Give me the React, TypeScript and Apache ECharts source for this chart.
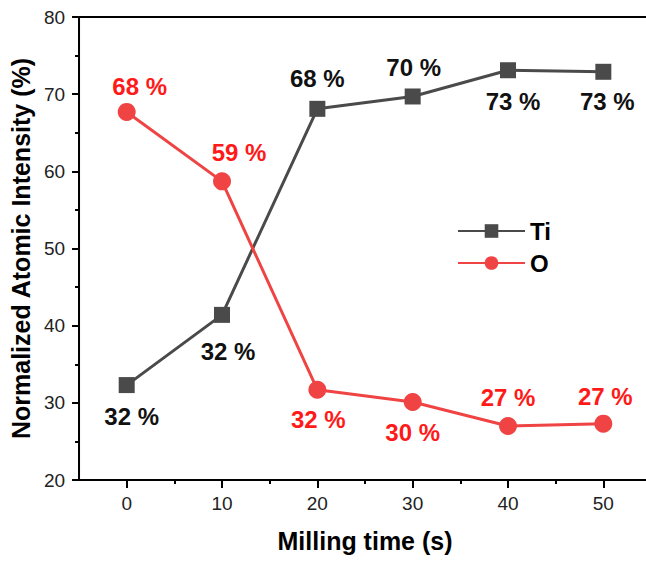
import React, { useEffect, useRef } from "react";
import * as echarts from "echarts";

// Milling time (s) and normalized atomic intensity (%) for each element
const millingTime = [0, 10, 20, 30, 40, 50];
const tiIntensity = [32.3, 41.4, 68.1, 69.7, 73.1, 72.9];
const oIntensity = [67.7, 58.7, 31.7, 30.1, 27.0, 27.3];
const tiLabels = ["32 %", "32 %", "68 %", "70 %", "73 %", "73 %"];
const oLabels = ["68 %", "59 %", "32 %", "30 %", "27 %", "27 %"];
const xMajorTicks = [0, 10, 20, 30, 40, 50];
const xMinorTicks = [5, 15, 25, 35, 45];

// Label offsets (px) from each marker centre
const tiLabelOffsets = [[5, 31], [6, 37], [0, -30], [1, -29], [5, 31], [4, 30]];
const oLabelOffsets = [[13, -25], [17, -29], [1, 30], [0, 30], [0, -28], [2, -27]];

const FONT = "'Liberation Sans', Arial, Helvetica, sans-serif";
const TI_COLOR = "#4a4a4a";
const O_COLOR = "#f04444";

function buildSeriesData(values: number[], labels: string[], offsets: number[][], color: string) {
  return values.map((v, i) => ({
    value: [millingTime[i], v],
    label: {
      show: true,
      position: "inside",
      offset: offsets[i],
      formatter: labels[i],
      color,
      fontSize: 24,
      fontWeight: "bold",
      fontFamily: FONT,
    },
  }));
}

export default function App() {
  const ref = useRef<HTMLDivElement>(null);

  useEffect(() => {
    if (!ref.current) return;
    const chart = echarts.init(ref.current, undefined, { renderer: "svg" });
    chart.setOption({
      animation: false,
      backgroundColor: "#ffffff",
      textStyle: { fontFamily: FONT },
      grid: {
        left: 77,
        top: 17,
        width: 574,
        height: 463,
        show: true,
        borderColor: "#000",
        borderWidth: 2,
        backgroundColor: "transparent",
      },
      legend: {
        left: 452,
        top: 214,
        orient: "vertical",
        itemWidth: 67,
        itemHeight: 17,
        itemGap: 8,
        textStyle: { fontSize: 24, fontWeight: "bold", color: "#000", fontFamily: FONT },
        data: ["Ti", "O"],
      },
      xAxis: [
        {
          type: "value",
          min: -5,
          max: 55,
          position: "bottom",
          name: "Milling time (s)",
          nameLocation: "middle",
          nameGap: 48,
          nameTextStyle: { fontSize: 25, fontWeight: "bold", color: "#000", fontFamily: FONT },
          axisLine: { show: true, onZero: false, lineStyle: { color: "#000", width: 2 } },
          axisTick: { show: true, inside: false, length: 8, lineStyle: { color: "#000", width: 2 }, customValues: xMajorTicks },
          axisLabel: { show: true, fontSize: 19, color: "#222", margin: 14, customValues: xMajorTicks },
          splitLine: { show: false },
        },
        {
          type: "value",
          min: -5,
          max: 55,
          position: "bottom",
          axisLine: { show: false, onZero: false },
          axisTick: { show: true, inside: false, length: 4, lineStyle: { color: "#000", width: 2 }, customValues: xMinorTicks },
          axisLabel: { show: false },
          splitLine: { show: false },
        },
      ],
      yAxis: {
        type: "value",
        min: 20,
        max: 80,
        interval: 10,
        position: "left",
        name: "Normalized Atomic Intensity (%)",
        nameLocation: "middle",
        nameGap: 42,
        nameTextStyle: { fontSize: 25, fontWeight: "bold", color: "#000", fontFamily: FONT },
        axisLine: { show: true, onZero: false, lineStyle: { color: "#000", width: 2 } },
        axisTick: { show: true, inside: false, length: 7, lineStyle: { color: "#000", width: 2 } },
        minorTick: { show: true, splitNumber: 2, length: 4, lineStyle: { color: "#000", width: 2 } },
        axisLabel: { fontSize: 19, color: "#222", margin: 14 },
        splitLine: { show: false },
      },
      series: [
        {
          name: "Ti",
          type: "line",
          xAxisIndex: 0,
          symbol: "rect",
          symbolSize: 16,
          color: TI_COLOR,
          lineStyle: { color: TI_COLOR, width: 3 },
          itemStyle: { color: TI_COLOR },
          data: buildSeriesData(tiIntensity, tiLabels, tiLabelOffsets, "#111"),
          z: 2,
        },
        {
          name: "O",
          type: "line",
          xAxisIndex: 0,
          symbol: "circle",
          symbolSize: 18,
          color: O_COLOR,
          lineStyle: { color: O_COLOR, width: 3 },
          itemStyle: { color: O_COLOR },
          data: buildSeriesData(oIntensity, oLabels, oLabelOffsets, "#ff1a1a"),
          z: 3,
        },
      ],
    });
    return () => chart.dispose();
  }, []);

  return (
    <div style={{ position: "fixed", left: 0, top: 0, width: 646, height: 561, overflow: "hidden", background: "#fff" }}>
      <div ref={ref} style={{ width: 660, height: 561 }} />
    </div>
  );
}
